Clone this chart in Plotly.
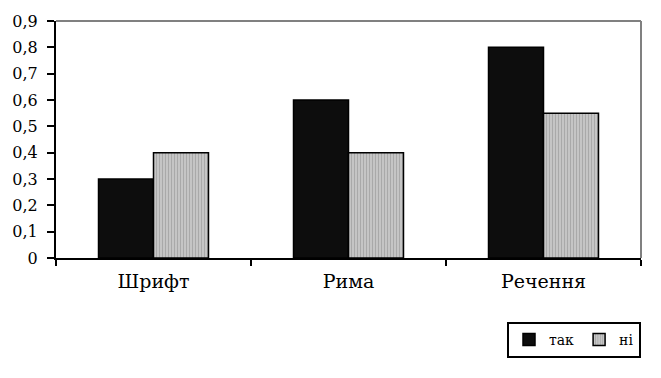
import plotly.graph_objects as go

categories = ["Шрифт", "Рима", "Речення"]
tak_values = [0.3, 0.6, 0.8]
ni_values = [0.4, 0.4, 0.55]
series_names = ["так", "ні"]
y_ticks = [0, 0.1, 0.2, 0.3, 0.4, 0.5, 0.6, 0.7, 0.8, 0.9]

FAM = "DejaVu Serif, serif"

fig = go.Figure()
fig.add_trace(go.Bar(
    x=categories, y=tak_values, name=series_names[0],
    marker=dict(color="#0d0d0d", line=dict(color="black", width=1.5)),
))
fig.add_trace(go.Bar(
    x=categories, y=ni_values, name=series_names[1],
    marker=dict(color="#c8c8c8", line=dict(color="black", width=1.5),
                pattern=dict(shape="|", fgcolor="#8a8a8a", bgcolor="#c8c8c8", size=3, solidity=0.4)),
))

# page body has an 8px margin, so the figure is 16px smaller than the window
fig.update_layout(
    width=645, height=362,
    margin=dict(l=48, r=12, t=13, b=106),
    paper_bgcolor="white", plot_bgcolor="white",
    barmode="group", bargap=0.436, bargroupgap=0,
    font=dict(family=FAM, size=15, color="black"),
    showlegend=True,
    legend=dict(orientation="h", x=1.0, y=-0.27, xanchor="right", yanchor="top",
                bordercolor="black", borderwidth=2, bgcolor="white",
                font=dict(family=FAM, size=14),
                itemwidth=30, tracegroupgap=0),
    xaxis=dict(showline=True, linecolor="black", linewidth=2, ticks="outside",
               tickson="boundaries", ticklen=6, tickwidth=1.5, tickcolor="black",
               showgrid=False, ticklabelstandoff=5, automargin=False,
               tickfont=dict(family=FAM, size=19)),
    yaxis=dict(range=[0, 0.9], showline=True,
               linecolor="black", linewidth=2, ticks="outside", ticklen=7,
               tickwidth=1.5, tickcolor="black", showgrid=False, zeroline=False,
               automargin=False, tickvals=y_ticks, ticklabelstandoff=6,
               tickfont=dict(family=FAM, size=16),
               ticktext=[("0" if v == 0 else f"{v:.1f}".replace(".", ",")) for v in y_ticks]),
)

fig.add_shape(type="line", xref="paper", yref="paper", x0=0, x1=1, y0=1, y1=1,
              line=dict(color="#808080", width=2))
fig.add_shape(type="line", xref="paper", yref="paper", x0=1, x1=1, y0=0, y1=1,
              line=dict(color="#808080", width=2))

fig.write_html("out.html")
